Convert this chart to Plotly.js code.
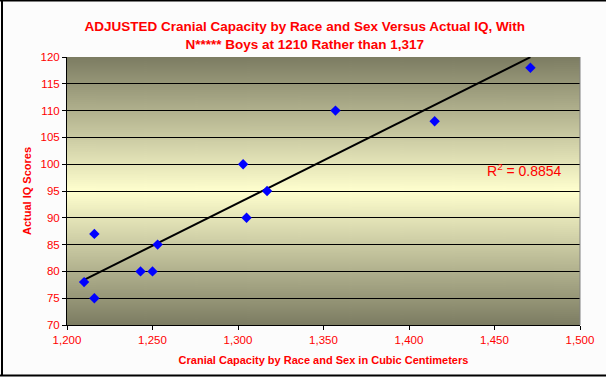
<!DOCTYPE html>
<html>
<head>
<meta charset="utf-8">
<script src="https://cdn.plot.ly/plotly-3.0.1.min.js"></script>
<style>html,body{margin:0;padding:0;background:#fcfcfc;}#chart{width:606px;height:377px;}</style>
</head>
<body>
<div id="chart"></div>
<script>
// Data
const cranialCC = [1210, 1216, 1216, 1243, 1250, 1253, 1303, 1305, 1317, 1357, 1415, 1471];
const iqScores  = [78,   87,   75,   80,   80,   85,   100,  90,   95,   110,  108,  118];
const xTicks = [1200, 1250, 1300, 1350, 1400, 1450, 1500];
const xTickLabels = ["1,200", "1,250", "1,300", "1,350", "1,400", "1,450", "1,500"];
const yTicks = [70, 75, 80, 85, 90, 95, 100, 105, 110, 115, 120];
const rSquaredLabel = "R<sup>2</sup> = 0.8854";

// Linear trendline (least squares) across the data range
const n = cranialCC.length;
const mx = cranialCC.reduce((a,b)=>a+b,0)/n;
const my = iqScores.reduce((a,b)=>a+b,0)/n;
let sxy = 0, sxx = 0;
for (let i=0;i<n;i++){ sxy += (cranialCC[i]-mx)*(iqScores[i]-my); sxx += (cranialCC[i]-mx)**2; }
const slope = sxy/sxx, icpt = my - slope*mx;
const xMin = Math.min(...cranialCC), xMax = Math.max(...cranialCC);
const trendX = [xMin, xMax];
const trendY = trendX.map(x => icpt + slope*x);

// Gradient background for plot area
const cv = document.createElement('canvas');
cv.width = 10; cv.height = 268;
const ctx = cv.getContext('2d');
const g = ctx.createLinearGradient(0,0,0,268);
g.addColorStop(0, 'rgb(124,124,98)');
g.addColorStop(0.5, 'rgb(255,255,206)');
g.addColorStop(1, 'rgb(124,124,98)');
ctx.fillStyle = g; ctx.fillRect(0,0,10,268);
const bgURL = cv.toDataURL();

const L=67, R=26, T=57, B=52, PW=606-L-R, PH=377-T-B;
const px = v => (v-L)/PW, py = v => (377-B-v)/PH;

const font = {family: 'Arial, "Liberation Sans", sans-serif', color: '#ff0000'};

const data = [
  {x: trendX, y: trendY, mode: 'lines', type: 'scatter', line: {color: '#000000', width: 2}, hoverinfo: 'skip', showlegend: false},
  {x: cranialCC, y: iqScores, mode: 'markers', type: 'scatter', marker: {symbol: 'diamond', size: 8, color: '#0000ff'}, showlegend: false}
];

const layout = {
  width: 606, height: 377,
  margin: {l: L, r: R, t: T, b: B},
  paper_bgcolor: '#fcfcfc', plot_bgcolor: 'rgba(0,0,0,0)',
  title: {text: 'ADJUSTED Cranial Capacity by Race and Sex Versus Actual IQ, With<br>N***** Boys at 1210 Rather than 1,317',
          font: {family: font.family, color: '#ff0000', size: 13.5, weight: 'bold'},
          x: 0.503, xanchor: 'center', yref: 'container', y: 1 - 31/377, yanchor: 'middle'},
  xaxis: {range: [1200, 1500], tickvals: xTicks, ticktext: xTickLabels, showgrid: false, zeroline: false,
          showline: true, linecolor: '#000000', linewidth: 1, ticks: 'outside', ticklen: 4, tickcolor: '#000000',
          tickfont: {family: font.family, color: '#ff0000', size: 11.5},
          title: {text: 'Cranial Capacity by Race and Sex in Cubic Centimeters', standoff: 11,
                  font: {family: font.family, color: '#ff0000', size: 11, weight: 'bold'}}},
  yaxis: {range: [70, 120], tickvals: yTicks, showgrid: true, gridcolor: '#000000', gridwidth: 1, zeroline: false,
          showline: true, linecolor: '#000000', linewidth: 1, ticks: 'outside', ticklen: 4, tickcolor: '#000000',
          tickfont: {family: font.family, color: '#ff0000', size: 11.5},
          title: {text: 'Actual IQ Scores', standoff: 6,
                  font: {family: font.family, color: '#ff0000', size: 11, weight: 'bold'}}},
  images: [{source: bgURL, xref: 'paper', yref: 'paper', x: 0, y: 1, sizex: 1, sizey: 1,
            sizing: 'stretch', layer: 'below', xanchor: 'left', yanchor: 'top'}],
  shapes: [
    {type: 'line', xref: 'paper', yref: 'paper', x0: 1, x1: 1, y0: 0, y1: 1, line: {color: '#808080', width: 1}},
    {type: 'line', xref: 'paper', yref: 'paper', x0: px(2), x1: px(2), y0: py(0), y1: py(376), line: {color: '#000000', width: 2}},
    {type: 'line', xref: 'paper', yref: 'paper', x0: px(0), x1: px(606), y0: py(0.5), y1: py(0.5), line: {color: '#000000', width: 2}},
    {type: 'line', xref: 'paper', yref: 'paper', x0: px(0), x1: px(606), y0: py(375.5), y1: py(375.5), line: {color: '#000000', width: 2}}
  ],
  annotations: [
    {text: rSquaredLabel, xref: 'paper', yref: 'paper', x: px(524), y: py(170), xanchor: 'center', yanchor: 'middle',
     showarrow: false, font: {family: font.family, color: '#ff0000', size: 14}}
  ]
};

Plotly.newPlot('chart', data, layout, {displayModeBar: false, staticPlot: true});
</script>
</body>
</html>
